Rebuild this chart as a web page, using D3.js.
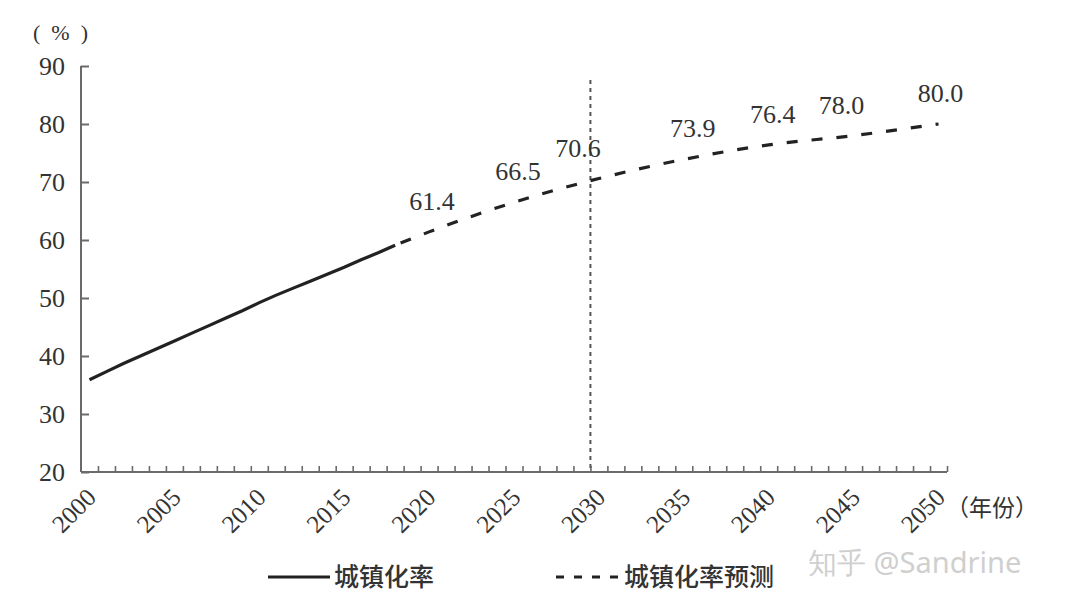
<!DOCTYPE html>
<html><head><meta charset="utf-8">
<script src="https://cdn.jsdelivr.net/npm/d3@7"></script>
<style>html,body{margin:0;padding:0;background:#fff;} svg{display:block;}
.serif{font-family:"Liberation Serif","Times New Roman",Times,Tinos,"Noto Serif","DejaVu Serif","Noto Serif CJK SC",serif;}
.cjk{font-family:"Noto Sans CJK SC",sans-serif;}
</style>
</head><body><svg id="chart" width="1080" height="604"></svg>
<script>
// ---- data ----
const actualYears = [2000,2001,2002,2003,2004,2005,2006,2007,2008,2009,2010,2011,2012,2013,2014,2015,2016,2017,2018];
const actualValues = [35.9,37.3,38.7,40.0,41.3,42.6,43.9,45.2,46.5,47.8,49.2,50.5,51.7,52.9,54.1,55.3,56.6,57.8,59.1];
const forecastYears = [2018,2020,2025,2030,2035,2040,2045,2050];
const forecastValues = [59.1,61.4,66.5,70.6,73.9,76.4,78.0,80.0];
const labelYears = [2020,2025,2030,2035,2040,2045,2050];
const labelTexts = ["61.4","66.5","70.6","73.9","76.4","78.0","80.0"];
const yTickValues = [20,30,40,50,60,70,80,90];
const xTickLabels = [2000,2005,2010,2015,2020,2025,2030,2035,2040,2045,2050];
const allYears = d3.range(2000, 2051);
const dividerYear = 2029.5;
const legendNames = ["城镇化率","城镇化率预测"];
const yUnit = "(\u2002%\u2002)";
const xUnit = "（年份）";
const watermark = "知乎 @Sandrine";

// ---- layout ----
const labelNudge = [3, 4, -21, 9, 4, -12, 2];
const svg = d3.select("#chart");
const x = d3.scaleLinear().domain([1999.5, 2050.5]).range([81, 947]);
const y = d3.scaleLinear().domain([20, 90]).range([472, 66]);
const axisColor = "#6a6a6a";
const ink = "#222";
const textColor = "#333";

// y axis
const yAxis = d3.axisLeft(y).tickValues(yTickValues).tickSize(-8).tickPadding(16).tickFormat(d3.format("d"));
const gy = svg.append("g").attr("transform", `translate(${x.range()[0]},0)`).call(yAxis)
  .attr("font-family", null).attr("font-size", null);
gy.select(".domain").attr("stroke", axisColor).attr("stroke-width", 2).attr("d", `M0,${y(90)}V${y(20)}`);
gy.selectAll(".tick line").attr("stroke", axisColor).attr("stroke-width", 2);
gy.selectAll(".tick text").attr("class", "serif").attr("fill", textColor).style("font-size", "26px");

// x axis (ticks between categories)
const xAxis = d3.axisBottom(x).tickValues(allYears.map(d => d + 0.5)).tickSize(-6).tickFormat("");
const gx = svg.append("g").attr("transform", `translate(0,${y(20)})`).call(xAxis);
gx.select(".domain").attr("stroke", axisColor).attr("stroke-width", 2).attr("d", `M${x.range()[0]},0H${x.range()[1]}`);
gx.selectAll(".tick line").attr("stroke", axisColor).attr("stroke-width", 1.6);

// rotated x labels
svg.append("g").selectAll("text").data(xTickLabels).join("text")
  .attr("class", "serif")
  .attr("transform", d => `translate(${x(d) + 8},${y(20) + 27}) rotate(-45)`)
  .attr("text-anchor", "end")
  .attr("fill", textColor)
  .style("font-size", "25px")
  .text(d => d);

// units
svg.append("text").attr("class", "serif").attr("x", 33).attr("y", 40).attr("fill", textColor)
  .style("font-size", "22px").text(yUnit);
svg.append("text").attr("class", "cjk").attr("x", 946).attr("y", 516).attr("fill", textColor)
  .style("font-size", "23px").text(xUnit);

// divider
svg.append("line").attr("x1", x(dividerYear)).attr("x2", x(dividerYear))
  .attr("y1", 80).attr("y2", y(20))
  .attr("stroke", "#555").attr("stroke-width", 2).attr("stroke-dasharray", "4 4");

// lines
const line = d3.line().x(d => x(d[0])).y(d => y(d[1]));
svg.append("path").datum(actualYears.map((d, i) => [d, actualValues[i]]))
  .attr("d", line).attr("fill", "none").attr("stroke", ink).attr("stroke-width", 3.2);
const fpath = svg.append("path").datum(forecastYears.map((d, i) => [d, forecastValues[i]]))
  .attr("d", line.curve(d3.curveMonotoneX)).attr("fill", "none").attr("stroke", ink).attr("stroke-width", 3.2)
  .attr("stroke-dasharray", "11 14");
const L = fpath.node().getTotalLength();
fpath.attr("stroke-dashoffset", (((3 - L) % 25) + 25) % 25);

// data labels
const fv = new Map(forecastYears.map((d, i) => [d, forecastValues[i]]));
svg.append("g").selectAll("text").data(labelYears).join("text")
  .attr("class", "serif")
  .attr("x", (d, i) => x(d) + labelNudge[i])
  .attr("y", d => y(fv.get(d)) - 22)
  .attr("text-anchor", "middle").attr("fill", textColor)
  .style("font-size", "26px")
  .text((d, i) => labelTexts[i]);

// legend
const lg = svg.append("g");
lg.append("line").attr("x1", 268).attr("x2", 330).attr("y1", 577).attr("y2", 577)
  .attr("stroke", ink).attr("stroke-width", 3);
lg.append("text").attr("class", "cjk").attr("x", 334).attr("y", 586).attr("fill", textColor)
  .style("font-size", "25px").style("font-weight", 500).text(legendNames[0]);
lg.append("line").attr("x1", 556).attr("x2", 622).attr("y1", 577).attr("y2", 577)
  .attr("stroke", ink).attr("stroke-width", 3).attr("stroke-dasharray", "8 10");
lg.append("text").attr("class", "cjk").attr("x", 624).attr("y", 586).attr("fill", textColor)
  .style("font-size", "25px").style("font-weight", 500).text(legendNames[1]);

// watermark
svg.append("text").attr("x", 808).attr("y", 573).attr("fill", "#cfcfcf")
  .style("font-family", "'Noto Sans','DejaVu Sans',sans-serif").style("font-size", "29px").text(watermark);
</script>
</body></html>
